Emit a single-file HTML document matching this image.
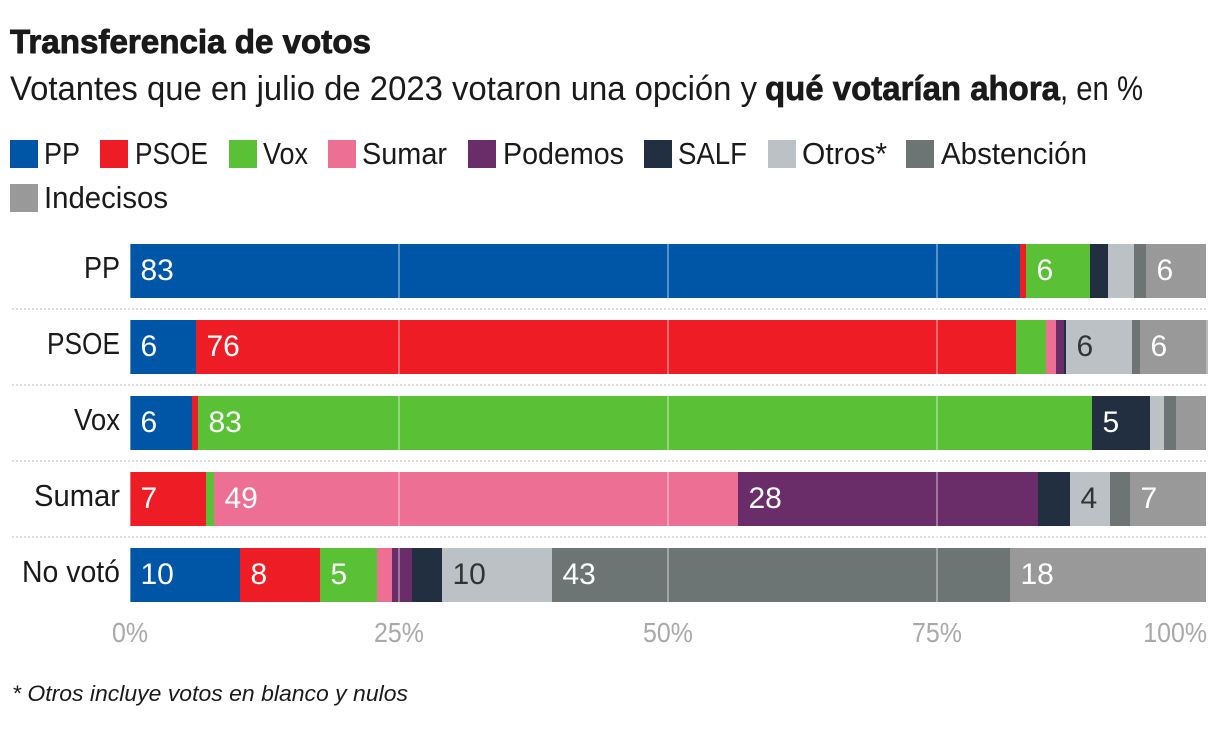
<!DOCTYPE html>
<html lang="es">
<head>
<meta charset="utf-8">
<title>Transferencia de votos</title>
<style>
html,body{margin:0;padding:0;background:#fff;width:1220px;height:730px;overflow:hidden}
svg{display:block}
text{font-family:"Liberation Sans",sans-serif;fill:#1a1a1a}
.legend-text{font-size:31px}
.row-label{font-size:31px;text-anchor:end}
.value{font-size:30px}
.tick{font-size:28px;fill:#a9a9a9}
</style>
</head>
<body>
<svg id="chart" xmlns="http://www.w3.org/2000/svg" width="1220" height="730" viewBox="0 0 1220 730">
  <text x="10" y="53" font-size="33" font-weight="700" stroke="#1a1a1a" stroke-width="0.9" textLength="361" lengthAdjust="spacingAndGlyphs">Transferencia de votos</text>
  <g font-size="34">
    <text x="10" y="100" textLength="747" lengthAdjust="spacingAndGlyphs">Votantes que en julio de 2023 votaron una opción y</text>
    <text x="765" y="100" font-weight="700" stroke="#1a1a1a" stroke-width="0.7" textLength="295" lengthAdjust="spacingAndGlyphs">qué votarían ahora</text>
    <text x="1060" y="100" textLength="83" lengthAdjust="spacingAndGlyphs">, en %</text>
  </g>
  <g>
    <g><rect x="10" y="140" width="28" height="28" fill="#0056a6"/><text class="legend-text" x="44" y="164" textLength="36" lengthAdjust="spacingAndGlyphs">PP</text></g>
    <g><rect x="100" y="140" width="28" height="28" fill="#ee1c25"/><text class="legend-text" x="135" y="164" textLength="73" lengthAdjust="spacingAndGlyphs">PSOE</text></g>
    <g><rect x="229" y="140" width="28" height="28" fill="#5ac136"/><text class="legend-text" x="263" y="164" textLength="45" lengthAdjust="spacingAndGlyphs">Vox</text></g>
    <g><rect x="328" y="140" width="28" height="28" fill="#ee6f94"/><text class="legend-text" x="362" y="164" textLength="85" lengthAdjust="spacingAndGlyphs">Sumar</text></g>
    <g><rect x="468" y="140" width="28" height="28" fill="#6b2d69"/><text class="legend-text" x="503" y="164" textLength="121" lengthAdjust="spacingAndGlyphs">Podemos</text></g>
    <g><rect x="644" y="140" width="28" height="28" fill="#212f41"/><text class="legend-text" x="678" y="164" textLength="69" lengthAdjust="spacingAndGlyphs">SALF</text></g>
    <g><rect x="768" y="140" width="28" height="28" fill="#bcc1c5"/><text class="legend-text" x="802" y="164" textLength="85" lengthAdjust="spacingAndGlyphs">Otros*</text></g>
    <g><rect x="906" y="140" width="28" height="28" fill="#6c7573"/><text class="legend-text" x="941" y="164" textLength="146" lengthAdjust="spacingAndGlyphs">Abstención</text></g>
    <g><rect x="10" y="184" width="28" height="28" fill="#999999"/><text class="legend-text" x="44" y="208" textLength="124" lengthAdjust="spacingAndGlyphs">Indecisos</text></g>
  </g>
  <g id="plot"></g>
  <text x="12" y="701" font-size="22" font-style="italic" textLength="396" lengthAdjust="spacingAndGlyphs">* Otros incluye votos en blanco y nulos</text>
</svg>
<script>
const categories = ['PP', 'PSOE', 'Vox', 'Sumar', 'No votó'];
const seriesNames = ['PP', 'PSOE', 'Vox', 'Sumar', 'Podemos', 'SALF', 'Otros', 'Abstención', 'Indecisos', 'Resto'];
const valuesPP = [82.7, 6.13, 5.76, 0, 10.2];
const valuesPSOE = [0.56, 76.2, 0.56, 7.06, 7.5];
const valuesVox = [5.95, 2.8, 83.1, 0.74, 5.3];
const valuesSumar = [0, 0.93, 0, 48.7, 1.35];
const valuesPodemos = [0, 0.74, 0, 27.9, 1.85];
const valuesSALF = [1.67, 0.19, 5.39, 2.97, 2.8];
const valuesOtros = [2.4, 6.13, 1.3, 3.7, 10.2];
const valuesAbstencion = [1.1, 0.74, 1.1, 1.86, 42.6];
const valuesIndecisos = [5.6, 6.13, 2.8, 7.06, 18.2];
const valuesResto = [0, 0.19, 0, 0, 0];
const tickValues = [0, 25, 50, 75, 100];
const tickLabels = ['0%', '25%', '50%', '75%', '100%'];

const allSeries = [valuesPP, valuesPSOE, valuesVox, valuesSumar, valuesPodemos, valuesSALF, valuesOtros, valuesAbstencion, valuesIndecisos, valuesResto];
const colors = ['#0056a6', '#ee1c25', '#5ac136', '#ee6f94', '#6b2d69', '#212f41', '#bcc1c5', '#6c7573', '#999999', '#b9b9b9'];
const rowLabelWidth = {'PP': 36, 'PSOE': 73, 'Vox': 46, 'Sumar': 86, 'No votó': 98};
const NS = 'http://www.w3.org/2000/svg';
const plot = document.getElementById('plot');
const xScale = v => 130 + v * 10.76;
const yScale = i => 244 + i * 76;
const BAR_H = 54;

function make(tag, attrs, parent) {
  const el = document.createElementNS(NS, tag);
  Object.keys(attrs).forEach(k => el.setAttribute(k, attrs[k]));
  parent.appendChild(el);
  return el;
}

categories.forEach((cat, i) => {
  const rowGroup = make('g', {}, plot);
  
  

  const rowLabel = make('text', {class: 'row-label', x: 120, y: yScale(i) + 34}, rowGroup);
  rowLabel.textContent = cat;
  
  
  rowLabel.setAttribute('textLength', rowLabelWidth[cat]);
  rowLabel.setAttribute('lengthAdjust', 'spacingAndGlyphs');

  let cum = 0;
  allSeries.forEach((vals, s) => {
    const v = vals[i];
    if (v > 0) {
      const x0 = Math.round(xScale(cum));
      const x1 = Math.round(xScale(cum + v));
      const seg = make('rect', {x: x0, y: yScale(i), width: x1 - x0, height: BAR_H, fill: colors[s], 'shape-rendering': 'crispEdges'}, rowGroup);
      
      
      if (v >= 3.5) {
        const val = make('text', {class: 'value', x: x0 + 10.5, y: yScale(i) + 36}, rowGroup);
        val.textContent = String(Math.round(v));
        val.style.fill = seriesNames[s] === 'Otros' ? '#333333' : '#ffffff';
        
        
      }
    }
    cum += v;
  });
  if (i < categories.length - 1) {
    const sep = make('line', {x1: 12, x2: 1208, y1: yScale(i) + BAR_H + 11, y2: yScale(i) + BAR_H + 11, stroke: '#dcdcdc', 'stroke-width': 2, 'stroke-dasharray': '2 2'}, plot);
    
    
  }
});

tickValues.forEach((t, i) => {
  if (t < 100) {
    const grid = make('line', {x1: xScale(t), x2: xScale(t), y1: yScale(0), y2: yScale(categories.length - 1) + BAR_H, stroke: 'rgba(255,255,255,0.35)', 'stroke-width': 2, 'shape-rendering': 'crispEdges'}, plot);
    
    
  }
  const tick = make('text', {class: 'tick', x: t === 100 ? xScale(t) + 1 : xScale(t), y: 642, 'text-anchor': t === 100 ? 'end' : 'middle'}, plot);
  tick.textContent = tickLabels[i];
  
  
  tick.setAttribute('textLength', tick.getComputedTextLength() * 0.89);
  tick.setAttribute('lengthAdjust', 'spacingAndGlyphs');
});
</script>
</body>
</html>
